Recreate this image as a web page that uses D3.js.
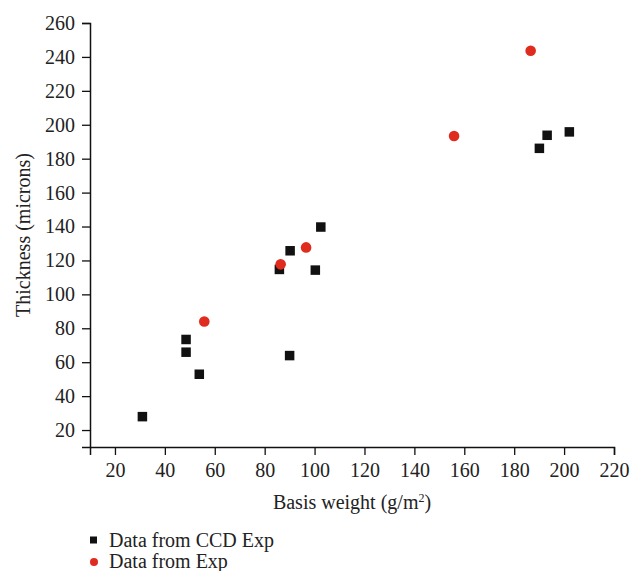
<!DOCTYPE html>
<html>
<head>
<meta charset="utf-8">
<script src="https://cdnjs.cloudflare.com/ajax/libs/d3/7.8.5/d3.min.js"></script>
<style>
  body { margin: 0; background: #fff; }
  svg text { font-family: "Liberation Serif", "DejaVu Serif", serif; fill: #222; }
</style>
</head>
<body>
<div id="chart"></div>
<script>
// CCD experiment data (basis weight, thickness)
var ccdX = [31, 48.5, 48.5, 53.8, 85.9, 90, 90.2, 100.3, 102.5, 190.1, 193.2, 202.1];
var ccdY = [27.9, 73.4, 65.9, 52.9, 114.7, 63.9, 125.7, 114.3, 139.7, 186.1, 193.8, 195.8];
// plain experiment data
var expX = [55.8, 86.4, 96.6, 155.9, 186.6];
var expY = [84, 117.7, 127.7, 193.4, 243.6];

var xTicks = [20, 40, 60, 80, 100, 120, 140, 160, 180, 200, 220];
var yTicks = [20, 40, 60, 80, 100, 120, 140, 160, 180, 200, 220, 240, 260];
var legendNames = ["Data from CCD Exp", "Data from Exp"];

var W = 631, H = 571;
var margin = {left: 90, right: 17, top: 23, bottom: 124};

var svg = d3.select("#chart").append("svg")
  .attr("width", W)
  .attr("height", H);

var x = d3.scaleLinear().domain([10, 220]).range([margin.left, W - margin.right]);
var y = d3.scaleLinear().domain([10, 260]).range([H - margin.bottom, margin.top]);

// minor ticks every 10
var xMinor = d3.range(10, 221, 10), yMinor = d3.range(10, 261, 10);

var gx = svg.append("g").attr("transform", "translate(0," + y(10) + ")");
gx.call(d3.axisBottom(x).tickValues(xMinor).tickSize(4).tickFormat(""));
gx.call(d3.axisBottom(x).tickValues(xTicks).tickSize(8).tickPadding(8).tickFormat(d3.format("d")));

var gy = svg.append("g").attr("transform", "translate(" + x(10) + ",0)");
gy.call(d3.axisLeft(y).tickValues(yMinor).tickSize(4).tickFormat(""));
gy.call(d3.axisLeft(y).tickValues(yTicks).tickSize(8).tickPadding(7).tickFormat(d3.format("d")));

svg.selectAll(".domain").attr("stroke", "#111").attr("stroke-width", 1.5);
svg.selectAll(".tick line").attr("stroke", "#111").attr("stroke-width", 1.3);
svg.selectAll(".tick text").style("font-size", "20px").attr("fill", "#222");

// axis titles
var xt = svg.append("text")
  .attr("x", (x(10) + x(220)) / 2)
  .attr("y", 509)
  .attr("text-anchor", "middle")
  .style("font-size", "20px");
xt.append("tspan").text("Basis weight (g/m");
xt.append("tspan").attr("dy", -7).style("font-size", "12px").text("2");
xt.append("tspan").attr("dy", 7).text(")");

svg.append("text")
  .attr("transform", "translate(30," + (y(10) + y(260)) / 2 + ") rotate(-90)")
  .attr("text-anchor", "middle")
  .style("font-size", "20px")
  .text("Thickness (microns)");

// points
var ccd = ccdX.map(function(d, i){ return [d, ccdY[i]]; });
var exp = expX.map(function(d, i){ return [d, expY[i]]; });

svg.append("g").selectAll("rect")
  .data(ccd).enter().append("rect")
  .attr("x", function(d){ return x(d[0]) - 4.75; })
  .attr("y", function(d){ return y(d[1]) - 4.75; })
  .attr("width", 9.5)
  .attr("height", 9.5)
  .attr("fill", "#111");

svg.append("g").selectAll("circle")
  .data(exp).enter().append("circle")
  .attr("cx", function(d){ return x(d[0]); })
  .attr("cy", function(d){ return y(d[1]); })
  .attr("r", 5.3)
  .attr("fill", "#e02b1f");

// legend
var lg = svg.append("g");
lg.append("rect").attr("x", 90).attr("y", 536.5).attr("width", 7).attr("height", 7).attr("fill", "#111");
lg.append("circle").attr("cx", 94).attr("cy", 562).attr("r", 4).attr("fill", "#e02b1f");
lg.selectAll("text").data(legendNames).enter().append("text")
  .attr("x", 109)
  .attr("y", function(d, i){ return 547 + i * 20.5; })
  .style("font-size", "20px")
  .text(function(d){ return d; });
</script>
</body>
</html>
